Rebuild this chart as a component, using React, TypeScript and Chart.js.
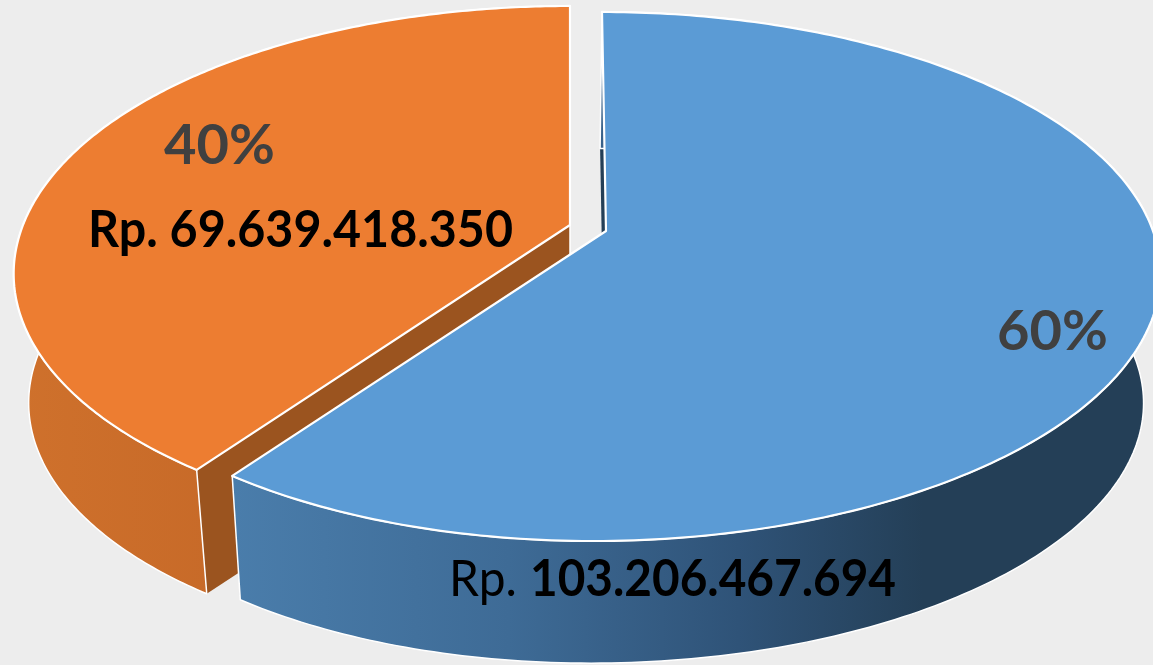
import React, { useEffect, useRef } from "react";
import { Chart, registerables } from "chart.js";

Chart.register(...registerables);

const categories = ["Kategori A", "Kategori B"];
const seriesValues = [103206467694, 69639418350];
const percentLabels = ["60%", "40%"];
const sliceColors = ["#5b9bd5", "#ed7d31"];

// Perspective of the tilted disc, per slice
const VIEW = { B: 547, A: 256.7, k: 0.172, depth: 130.5, shrink: 0.973 };
const SLICE_GEOMETRY = [
  { apexX: 606, apexY: 231, lean: [-3.05, -7.75], wall: [[0, "#4a7dab"], [0.3, "#3e6b96"], [0.55, "#2f5378"], [0.75, "#243f57"], [1, "#243f57"]], face: "#243f57", lineW: 0, bx: -2 },
  { apexX: 570, apexY: 225, lean: [-4.9, -4.9], wall: [[0, "#cf712c"], [1, "#ba5e22"]], face: "#9b541f", lineW: 1.5, bx: 0 },
];

const project = (theta: number, g: any, bottom: boolean) => {
  const u = Math.sin(theta);
  const v = -Math.cos(theta);
  const w = 1 - VIEW.k * v;
  const s = bottom ? VIEW.shrink : 1;
  const px = (VIEW.B * u + g.lean[0] * v + g.lean[1] * v * v) / w;
  const py = (VIEW.A * v) / w;
  return {
    x: g.apexX + (bottom ? g.bx : 0) + s * px,
    y: g.apexY + (bottom ? VIEW.depth : 0) + s * py,
  };
};

const pie3d = {
  id: "pie3d",
  beforeDatasetsDraw(chart: any) {
    const { ctx } = chart;
    const arcs = chart.getDatasetMeta(0).data;
    ctx.save();
    ctx.lineJoin = "round";
    // far slice first so the blue one overlaps it
    [1, 0].forEach((i) => {
      const arc = arcs[i];
      const g = SLICE_GEOMETRY[i];
      const start = arc.startAngle + Math.PI / 2;
      const end = arc.endAngle + Math.PI / 2;
      const N = 240;
      const rim: any[] = [];
      const low: any[] = [];
      for (let n = 0; n <= N; n++) {
        const t = start + ((end - start) * n) / N;
        rim.push(project(t, g, false));
        low.push(project(t, g, true));
      }
      const apex = { x: g.apexX, y: g.apexY };
      const apexLow = { x: g.apexX + g.bx, y: g.apexY + VIEW.depth };
      const poly = (pts: any[]) => {
        ctx.beginPath();
        pts.forEach((p, j) => (j ? ctx.lineTo(p.x, p.y) : ctx.moveTo(p.x, p.y)));
        ctx.closePath();
      };
      // cut faces
      ctx.fillStyle = g.face;
      ctx.strokeStyle = "#ffffff";
      ctx.lineWidth = 1.5;
      poly([rim[0], apex, apexLow, low[0]]);
      ctx.fill();
      poly([rim[N], apex, apexLow, low[N]]);
      ctx.fill();
      if (g.lineW) ctx.stroke();
      // round wall
      const xs = rim.concat(low).map((p) => p.x);
      const minX = Math.min(...xs);
      const maxX = Math.min(Math.max(...xs), 1153);
      const grad = ctx.createLinearGradient(minX, 0, maxX, 0);
      if (i === 0) {
        const left = Math.min(rim[N].x, low[N].x);
        const gr2 = ctx.createLinearGradient(left, 0, maxX, 0);
        g.wall.forEach((s: any) => gr2.addColorStop(s[0], s[1]));
        ctx.fillStyle = gr2;
      } else {
        g.wall.forEach((s: any) => grad.addColorStop(s[0], s[1]));
        ctx.fillStyle = grad;
      }
      poly(rim.concat(low.slice().reverse()));
      ctx.fill();
      ctx.strokeStyle = "#ffffff";
      ctx.lineWidth = 1.5;
      ctx.stroke();
      // top surface
      poly([apex, ...rim]);
      ctx.fillStyle = arc.options.backgroundColor;
      ctx.fill();
      ctx.lineWidth = 2.2;
      ctx.stroke();
    });
    ctx.restore();
    return false;
  },
  afterDraw(chart: any) {
    const { ctx } = chart;
    ctx.save();
    ctx.textBaseline = "alphabetic";
    ctx.textAlign = "left";
    const put = (t: string, x: number, y: number, w: number, font: string, color: string) => {
      ctx.font = font;
      ctx.fillStyle = color;
      ctx.fillText(t, x, y, w);
    };
    const bold = (s: number) => `bold ${s}px Lato`;
    const fmt = (v: number) => String(v).replace(/\B(?=(\d{3})+(?!\d))/g, ".");
    put(percentLabels[1], 164, 164, 111, bold(56), "#404040");
    put(percentLabels[0], 997, 350, 111, bold(56), "#404040");
    put("Rp. " + fmt(seriesValues[1]), 88, 247, 425, bold(51), "#000000");
    put("Rp. ", 449, 596, 80, `${51}px Lato`, "#000000");
    put(fmt(seriesValues[0]), 530, 596, 366, bold(51), "#000000");
    ctx.restore();
  },
};

export default function App() {
  const ref = useRef<HTMLCanvasElement>(null);
  useEffect(() => {
    const chart = new Chart(ref.current as HTMLCanvasElement, {
      type: "pie",
      data: {
        labels: categories,
        datasets: [{ data: seriesValues, backgroundColor: sliceColors, borderWidth: 0 }],
      },
      options: {
        animation: false,
        responsive: false,
        plugins: { legend: { display: false }, tooltip: { enabled: false } },
      },
      plugins: [pie3d],
    } as any);
    return () => chart.destroy();
  }, []);
  return (
    <div style={{ position: "fixed", left: 0, top: 0, width: 1153, height: 665, background: "#ededed", overflow: "hidden" }}>
      <canvas ref={ref} width={1153} height={665} style={{ display: "block" }} />
    </div>
  );
}
